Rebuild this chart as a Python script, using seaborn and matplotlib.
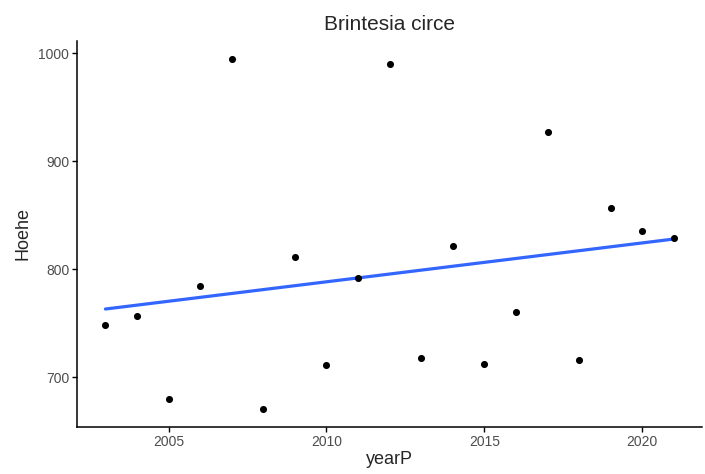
import numpy as np
import pandas as pd
import matplotlib
matplotlib.use("Agg")
import matplotlib.pyplot as plt
import seaborn as sns

# values
years = [2003, 2004, 2005, 2006, 2007, 2008, 2009, 2010, 2011, 2012,
         2013, 2014, 2015, 2016, 2017, 2018, 2019, 2020, 2021]
hoehe = [748, 757, 680, 784, 995, 670, 811, 711, 792, 990,
         718, 821, 712, 760, 927, 716, 857, 835, 829]
x_ticks = [2005, 2010, 2015, 2020]
y_ticks = [700, 800, 900, 1000]

df = pd.DataFrame({"yearP": years, "Hoehe": hoehe})

sns.set_style("white")
plt.rcParams['font.family'] = ['Liberation Sans', 'DejaVu Sans']

fig = plt.figure(figsize=(7.05, 4.74), dpi=100)
ax = fig.add_axes([0.1092, 0.0992, 0.887, 0.8143])

sns.regplot(data=df, x="yearP", y="Hoehe", ax=ax, ci=None,
            scatter_kws=dict(color="black", s=26, alpha=1, linewidths=0, zorder=3),
            line_kws=dict(color="#3366FF", linewidth=2.3, zorder=2))

span_x = max(years) - min(years)
ax.set_xlim(min(years) - 0.05 * span_x, max(years) + 0.05 * span_x)
span_y = max(hoehe) - min(hoehe)
ax.set_ylim(min(hoehe) - 0.05 * span_y, max(hoehe) + 0.05 * span_y)
ax.set_xticks(x_ticks)
ax.set_yticks(y_ticks)

for s in ["top", "right"]:
    ax.spines[s].set_visible(False)
for s in ["left", "bottom"]:
    ax.spines[s].set_color("black")
    ax.spines[s].set_linewidth(1.1)

ax.tick_params(axis="both", length=3.5, width=1, color="black",
               labelsize=10, labelcolor="#4D4D4D", pad=2,
               bottom=True, left=True)
ax.set_xlabel("yearP", fontsize=13, labelpad=2)
ax.set_ylabel("Hoehe", fontsize=13, labelpad=5)
ax.set_title("Brintesia circe", fontsize=15, pad=8)

fig.savefig("out.png", dpi=100)
